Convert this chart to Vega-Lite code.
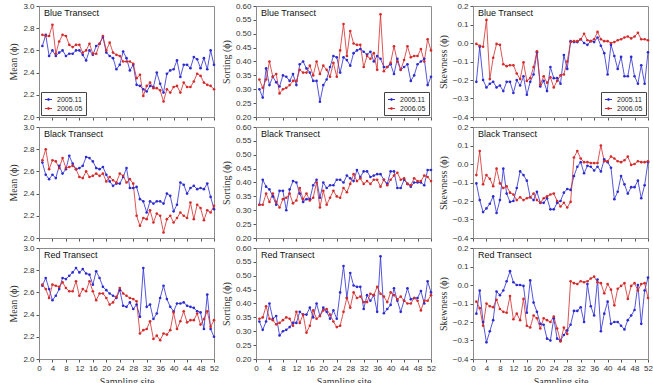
{
  "$schema": "https://vega.github.io/schema/vega-lite/v6.json",
  "padding": {"left": 8, "top": 1, "right": 0, "bottom": 0},
  "background": "white",
  "config": {
    "font": "Liberation Sans",
    "view": {"stroke": "#8c8c8c", "strokeWidth": 1},
    "axis": {
      "grid": false,
      "domainColor": "#8c8c8c",
      "tickColor": "#555555",
      "tickSize": 3,
      "labelFont": "Liberation Sans",
      "labelFontSize": 8,
      "labelColor": "#333333",
      "labelPadding": 2,
      "titleFont": "Liberation Serif",
      "titleFontSize": 10,
      "titleFontWeight": "normal",
      "titleColor": "#333333",
      "titlePadding": 4
    },
    "axisX": {"labelFlush": false, "labelOverlap": false},
    "legend": {
      "strokeColor": "#444444",
      "fillColor": "white",
      "padding": 3,
      "labelFont": "Liberation Sans",
      "labelFontSize": 7,
      "labelColor": "#222222",
      "symbolType": "M-1,0H1M-0.2,-0.2H0.2V0.2H-0.2Z",
      "symbolSize": 50,
      "symbolStrokeWidth": 1,
      "rowPadding": 1,
      "offset": 2
    },
    "title": {
      "anchor": "start",
      "frame": "group",
      "offset": -16,
      "dx": 5,
      "font": "Liberation Sans",
      "fontSize": 9,
      "fontWeight": "normal",
      "color": "#111111"
    }
  },
  "datasets": {
    "d": [
      {"t":"Blue","s":"2005.11","x":1,"m":2.64,"so":0.300,"sk":-0.21},
      {"t":"Blue","s":"2005.11","x":2,"m":2.74,"so":0.270,"sk":-0.02},
      {"t":"Blue","s":"2005.11","x":3,"m":2.55,"so":0.375,"sk":-0.20},
      {"t":"Blue","s":"2005.11","x":4,"m":2.60,"so":0.315,"sk":-0.24},
      {"t":"Blue","s":"2005.11","x":5,"m":2.55,"so":0.345,"sk":-0.22},
      {"t":"Blue","s":"2005.11","x":6,"m":2.58,"so":0.325,"sk":-0.21},
      {"t":"Blue","s":"2005.11","x":7,"m":2.60,"so":0.310,"sk":-0.24},
      {"t":"Blue","s":"2005.11","x":8,"m":2.55,"so":0.350,"sk":-0.23},
      {"t":"Blue","s":"2005.11","x":9,"m":2.57,"so":0.345,"sk":-0.26},
      {"t":"Blue","s":"2005.11","x":10,"m":2.57,"so":0.330,"sk":-0.21},
      {"t":"Blue","s":"2005.11","x":11,"m":2.60,"so":0.355,"sk":-0.21},
      {"t":"Blue","s":"2005.11","x":12,"m":2.60,"so":0.315,"sk":-0.27},
      {"t":"Blue","s":"2005.11","x":13,"m":2.56,"so":0.390,"sk":-0.20},
      {"t":"Blue","s":"2005.11","x":14,"m":2.51,"so":0.400,"sk":-0.23},
      {"t":"Blue","s":"2005.11","x":15,"m":2.60,"so":0.375,"sk":-0.18},
      {"t":"Blue","s":"2005.11","x":16,"m":2.56,"so":0.360,"sk":-0.28},
      {"t":"Blue","s":"2005.11","x":17,"m":2.64,"so":0.330,"sk":-0.21},
      {"t":"Blue","s":"2005.11","x":18,"m":2.66,"so":0.330,"sk":-0.17},
      {"t":"Blue","s":"2005.11","x":19,"m":2.72,"so":0.255,"sk":-0.05},
      {"t":"Blue","s":"2005.11","x":20,"m":2.58,"so":0.315,"sk":-0.235},
      {"t":"Blue","s":"2005.11","x":21,"m":2.55,"so":0.335,"sk":-0.205},
      {"t":"Blue","s":"2005.11","x":22,"m":2.53,"so":0.380,"sk":-0.26},
      {"t":"Blue","s":"2005.11","x":23,"m":2.43,"so":0.420,"sk":-0.13},
      {"t":"Blue","s":"2005.11","x":24,"m":2.47,"so":0.415,"sk":-0.19},
      {"t":"Blue","s":"2005.11","x":25,"m":2.59,"so":0.360,"sk":-0.19},
      {"t":"Blue","s":"2005.11","x":26,"m":2.53,"so":0.415,"sk":-0.22},
      {"t":"Blue","s":"2005.11","x":27,"m":2.42,"so":0.405,"sk":-0.065},
      {"t":"Blue","s":"2005.11","x":28,"m":2.47,"so":0.385,"sk":-0.14},
      {"t":"Blue","s":"2005.11","x":29,"m":2.29,"so":0.430,"sk":0.01},
      {"t":"Blue","s":"2005.11","x":30,"m":2.28,"so":0.440,"sk":0.005},
      {"t":"Blue","s":"2005.11","x":31,"m":2.25,"so":0.445,"sk":0.005},
      {"t":"Blue","s":"2005.11","x":32,"m":2.23,"so":0.435,"sk":0.02},
      {"t":"Blue","s":"2005.11","x":33,"m":2.28,"so":0.425,"sk":0.00},
      {"t":"Blue","s":"2005.11","x":34,"m":2.27,"so":0.435,"sk":-0.01},
      {"t":"Blue","s":"2005.11","x":35,"m":2.40,"so":0.400,"sk":0.01},
      {"t":"Blue","s":"2005.11","x":36,"m":2.30,"so":0.420,"sk":0.005},
      {"t":"Blue","s":"2005.11","x":37,"m":2.22,"so":0.410,"sk":0.03},
      {"t":"Blue","s":"2005.11","x":38,"m":2.39,"so":0.380,"sk":-0.015},
      {"t":"Blue","s":"2005.11","x":39,"m":2.42,"so":0.380,"sk":-0.055},
      {"t":"Blue","s":"2005.11","x":40,"m":2.43,"so":0.390,"sk":-0.17},
      {"t":"Blue","s":"2005.11","x":41,"m":2.51,"so":0.355,"sk":-0.01},
      {"t":"Blue","s":"2005.11","x":42,"m":2.36,"so":0.410,"sk":-0.07},
      {"t":"Blue","s":"2005.11","x":43,"m":2.47,"so":0.370,"sk":-0.14},
      {"t":"Blue","s":"2005.11","x":44,"m":2.47,"so":0.380,"sk":-0.075},
      {"t":"Blue","s":"2005.11","x":45,"m":2.44,"so":0.390,"sk":-0.18},
      {"t":"Blue","s":"2005.11","x":46,"m":2.54,"so":0.330,"sk":-0.18},
      {"t":"Blue","s":"2005.11","x":47,"m":2.52,"so":0.350,"sk":-0.075},
      {"t":"Blue","s":"2005.11","x":48,"m":2.44,"so":0.390,"sk":-0.18},
      {"t":"Blue","s":"2005.11","x":49,"m":2.53,"so":0.400,"sk":-0.22},
      {"t":"Blue","s":"2005.11","x":50,"m":2.43,"so":0.410,"sk":-0.12},
      {"t":"Blue","s":"2005.11","x":51,"m":2.60,"so":0.315,"sk":-0.22},
      {"t":"Blue","s":"2005.11","x":52,"m":2.47,"so":0.345,"sk":-0.05},

      {"t":"Blue","s":"2006.05","x":1,"m":2.74,"so":0.335,"sk":-0.005},
      {"t":"Blue","s":"2006.05","x":2,"m":2.73,"so":0.305,"sk":-0.015},
      {"t":"Blue","s":"2006.05","x":3,"m":2.73,"so":0.335,"sk":-0.02},
      {"t":"Blue","s":"2006.05","x":4,"m":2.83,"so":0.400,"sk":0.125},
      {"t":"Blue","s":"2006.05","x":5,"m":2.57,"so":0.345,"sk":-0.195},
      {"t":"Blue","s":"2006.05","x":6,"m":2.68,"so":0.355,"sk":-0.08},
      {"t":"Blue","s":"2006.05","x":7,"m":2.74,"so":0.285,"sk":-0.005},
      {"t":"Blue","s":"2006.05","x":8,"m":2.73,"so":0.300,"sk":-0.01},
      {"t":"Blue","s":"2006.05","x":9,"m":2.65,"so":0.305,"sk":-0.115},
      {"t":"Blue","s":"2006.05","x":10,"m":2.63,"so":0.315,"sk":-0.125},
      {"t":"Blue","s":"2006.05","x":11,"m":2.65,"so":0.330,"sk":-0.12},
      {"t":"Blue","s":"2006.05","x":12,"m":2.65,"so":0.330,"sk":-0.12},
      {"t":"Blue","s":"2006.05","x":13,"m":2.58,"so":0.370,"sk":-0.165},
      {"t":"Blue","s":"2006.05","x":14,"m":2.60,"so":0.360,"sk":-0.195},
      {"t":"Blue","s":"2006.05","x":15,"m":2.66,"so":0.360,"sk":-0.105},
      {"t":"Blue","s":"2006.05","x":16,"m":2.57,"so":0.385,"sk":-0.205},
      {"t":"Blue","s":"2006.05","x":17,"m":2.57,"so":0.350,"sk":-0.19},
      {"t":"Blue","s":"2006.05","x":18,"m":2.66,"so":0.400,"sk":-0.13},
      {"t":"Blue","s":"2006.05","x":19,"m":2.73,"so":0.355,"sk":-0.045},
      {"t":"Blue","s":"2006.05","x":20,"m":2.60,"so":0.385,"sk":-0.225},
      {"t":"Blue","s":"2006.05","x":21,"m":2.67,"so":0.370,"sk":-0.18},
      {"t":"Blue","s":"2006.05","x":22,"m":2.58,"so":0.345,"sk":-0.215},
      {"t":"Blue","s":"2006.05","x":23,"m":2.56,"so":0.395,"sk":-0.185},
      {"t":"Blue","s":"2006.05","x":24,"m":2.55,"so":0.345,"sk":-0.24},
      {"t":"Blue","s":"2006.05","x":25,"m":2.50,"so":0.440,"sk":-0.205},
      {"t":"Blue","s":"2006.05","x":26,"m":2.50,"so":0.535,"sk":-0.175},
      {"t":"Blue","s":"2006.05","x":27,"m":2.50,"so":0.420,"sk":-0.17},
      {"t":"Blue","s":"2006.05","x":28,"m":2.48,"so":0.510,"sk":-0.10},
      {"t":"Blue","s":"2006.05","x":29,"m":2.35,"so":0.465,"sk":0.005},
      {"t":"Blue","s":"2006.05","x":30,"m":2.38,"so":0.460,"sk":0.01},
      {"t":"Blue","s":"2006.05","x":31,"m":2.19,"so":0.460,"sk":0.01},
      {"t":"Blue","s":"2006.05","x":32,"m":2.28,"so":0.380,"sk":0.02},
      {"t":"Blue","s":"2006.05","x":33,"m":2.31,"so":0.420,"sk":0.05},
      {"t":"Blue","s":"2006.05","x":34,"m":2.26,"so":0.410,"sk":0.015},
      {"t":"Blue","s":"2006.05","x":35,"m":2.26,"so":0.430,"sk":0.01},
      {"t":"Blue","s":"2006.05","x":36,"m":2.24,"so":0.370,"sk":0.02},
      {"t":"Blue","s":"2006.05","x":37,"m":2.14,"so":0.570,"sk":0.06},
      {"t":"Blue","s":"2006.05","x":38,"m":2.25,"so":0.365,"sk":0.02},
      {"t":"Blue","s":"2006.05","x":39,"m":2.22,"so":0.380,"sk":0.01},
      {"t":"Blue","s":"2006.05","x":40,"m":2.27,"so":0.395,"sk":0.01},
      {"t":"Blue","s":"2006.05","x":41,"m":2.28,"so":0.455,"sk":0.00},
      {"t":"Blue","s":"2006.05","x":42,"m":2.22,"so":0.400,"sk":0.005},
      {"t":"Blue","s":"2006.05","x":43,"m":2.31,"so":0.370,"sk":0.015},
      {"t":"Blue","s":"2006.05","x":44,"m":2.27,"so":0.405,"sk":0.02},
      {"t":"Blue","s":"2006.05","x":45,"m":2.27,"so":0.455,"sk":0.03},
      {"t":"Blue","s":"2006.05","x":46,"m":2.32,"so":0.415,"sk":0.035},
      {"t":"Blue","s":"2006.05","x":47,"m":2.39,"so":0.420,"sk":0.025},
      {"t":"Blue","s":"2006.05","x":48,"m":2.37,"so":0.420,"sk":0.035},
      {"t":"Blue","s":"2006.05","x":49,"m":2.31,"so":0.445,"sk":0.055},
      {"t":"Blue","s":"2006.05","x":50,"m":2.29,"so":0.400,"sk":0.02},
      {"t":"Blue","s":"2006.05","x":51,"m":2.28,"so":0.480,"sk":0.02},
      {"t":"Blue","s":"2006.05","x":52,"m":2.25,"so":0.440,"sk":0.015},

      {"t":"Black","s":"2005.11","x":1,"m":2.68,"so":0.320,"sk":-0.105},
      {"t":"Black","s":"2005.11","x":2,"m":2.57,"so":0.410,"sk":-0.195},
      {"t":"Black","s":"2005.11","x":3,"m":2.53,"so":0.385,"sk":-0.26},
      {"t":"Black","s":"2005.11","x":4,"m":2.57,"so":0.375,"sk":-0.24},
      {"t":"Black","s":"2005.11","x":5,"m":2.54,"so":0.350,"sk":-0.215},
      {"t":"Black","s":"2005.11","x":6,"m":2.65,"so":0.320,"sk":-0.175},
      {"t":"Black","s":"2005.11","x":7,"m":2.58,"so":0.370,"sk":-0.265},
      {"t":"Black","s":"2005.11","x":8,"m":2.62,"so":0.370,"sk":-0.195},
      {"t":"Black","s":"2005.11","x":9,"m":2.74,"so":0.300,"sk":-0.025},
      {"t":"Black","s":"2005.11","x":10,"m":2.67,"so":0.375,"sk":-0.16},
      {"t":"Black","s":"2005.11","x":11,"m":2.62,"so":0.405,"sk":-0.205},
      {"t":"Black","s":"2005.11","x":12,"m":2.63,"so":0.400,"sk":-0.20},
      {"t":"Black","s":"2005.11","x":13,"m":2.65,"so":0.360,"sk":-0.13},
      {"t":"Black","s":"2005.11","x":14,"m":2.73,"so":0.330,"sk":-0.04},
      {"t":"Black","s":"2005.11","x":15,"m":2.72,"so":0.340,"sk":-0.06},
      {"t":"Black","s":"2005.11","x":16,"m":2.69,"so":0.340,"sk":-0.09},
      {"t":"Black","s":"2005.11","x":17,"m":2.63,"so":0.390,"sk":-0.18},
      {"t":"Black","s":"2005.11","x":18,"m":2.62,"so":0.410,"sk":-0.195},
      {"t":"Black","s":"2005.11","x":19,"m":2.64,"so":0.345,"sk":-0.15},
      {"t":"Black","s":"2005.11","x":20,"m":2.57,"so":0.400,"sk":-0.21},
      {"t":"Black","s":"2005.11","x":21,"m":2.51,"so":0.380,"sk":-0.21},
      {"t":"Black","s":"2005.11","x":22,"m":2.47,"so":0.390,"sk":-0.185},
      {"t":"Black","s":"2005.11","x":23,"m":2.49,"so":0.390,"sk":-0.245},
      {"t":"Black","s":"2005.11","x":24,"m":2.49,"so":0.410,"sk":-0.245},
      {"t":"Black","s":"2005.11","x":25,"m":2.55,"so":0.410,"sk":-0.21},
      {"t":"Black","s":"2005.11","x":26,"m":2.63,"so":0.400,"sk":-0.20},
      {"t":"Black","s":"2005.11","x":27,"m":2.45,"so":0.425,"sk":-0.155},
      {"t":"Black","s":"2005.11","x":28,"m":2.45,"so":0.415,"sk":-0.135},
      {"t":"Black","s":"2005.11","x":29,"m":2.46,"so":0.405,"sk":-0.14},
      {"t":"Black","s":"2005.11","x":30,"m":2.35,"so":0.445,"sk":-0.065},
      {"t":"Black","s":"2005.11","x":31,"m":2.33,"so":0.420,"sk":-0.015},
      {"t":"Black","s":"2005.11","x":32,"m":2.23,"so":0.440,"sk":0.01},
      {"t":"Black","s":"2005.11","x":33,"m":2.33,"so":0.440,"sk":-0.05},
      {"t":"Black","s":"2005.11","x":34,"m":2.31,"so":0.420,"sk":-0.01},
      {"t":"Black","s":"2005.11","x":35,"m":2.33,"so":0.425,"sk":-0.015},
      {"t":"Black","s":"2005.11","x":36,"m":2.33,"so":0.430,"sk":-0.035},
      {"t":"Black","s":"2005.11","x":37,"m":2.31,"so":0.430,"sk":-0.015},
      {"t":"Black","s":"2005.11","x":38,"m":2.40,"so":0.410,"sk":-0.04},
      {"t":"Black","s":"2005.11","x":39,"m":2.38,"so":0.395,"sk":0.025},
      {"t":"Black","s":"2005.11","x":40,"m":2.24,"so":0.440,"sk":0.01},
      {"t":"Black","s":"2005.11","x":41,"m":2.30,"so":0.440,"sk":-0.02},
      {"t":"Black","s":"2005.11","x":42,"m":2.50,"so":0.380,"sk":-0.19},
      {"t":"Black","s":"2005.11","x":43,"m":2.48,"so":0.380,"sk":-0.15},
      {"t":"Black","s":"2005.11","x":44,"m":2.40,"so":0.410,"sk":-0.065},
      {"t":"Black","s":"2005.11","x":45,"m":2.45,"so":0.395,"sk":-0.11},
      {"t":"Black","s":"2005.11","x":46,"m":2.47,"so":0.385,"sk":-0.16},
      {"t":"Black","s":"2005.11","x":47,"m":2.44,"so":0.400,"sk":-0.125},
      {"t":"Black","s":"2005.11","x":48,"m":2.45,"so":0.400,"sk":-0.125},
      {"t":"Black","s":"2005.11","x":49,"m":2.44,"so":0.400,"sk":-0.09},
      {"t":"Black","s":"2005.11","x":50,"m":2.49,"so":0.390,"sk":-0.185},
      {"t":"Black","s":"2005.11","x":51,"m":2.37,"so":0.445,"sk":-0.115},
      {"t":"Black","s":"2005.11","x":52,"m":2.26,"so":0.445,"sk":0.01},

      {"t":"Black","s":"2006.05","x":1,"m":2.70,"so":0.320,"sk":-0.06},
      {"t":"Black","s":"2006.05","x":2,"m":2.80,"so":0.320,"sk":0.07},
      {"t":"Black","s":"2006.05","x":3,"m":2.62,"so":0.360,"sk":-0.11},
      {"t":"Black","s":"2006.05","x":4,"m":2.70,"so":0.330,"sk":-0.06},
      {"t":"Black","s":"2006.05","x":5,"m":2.69,"so":0.360,"sk":-0.08},
      {"t":"Black","s":"2006.05","x":6,"m":2.63,"so":0.330,"sk":-0.12},
      {"t":"Black","s":"2006.05","x":7,"m":2.72,"so":0.310,"sk":-0.025},
      {"t":"Black","s":"2006.05","x":8,"m":2.63,"so":0.340,"sk":-0.105},
      {"t":"Black","s":"2006.05","x":9,"m":2.64,"so":0.345,"sk":-0.13},
      {"t":"Black","s":"2006.05","x":10,"m":2.65,"so":0.360,"sk":-0.12},
      {"t":"Black","s":"2006.05","x":11,"m":2.62,"so":0.325,"sk":-0.155},
      {"t":"Black","s":"2006.05","x":12,"m":2.55,"so":0.335,"sk":-0.165},
      {"t":"Black","s":"2006.05","x":13,"m":2.54,"so":0.380,"sk":-0.195},
      {"t":"Black","s":"2006.05","x":14,"m":2.60,"so":0.340,"sk":-0.18},
      {"t":"Black","s":"2006.05","x":15,"m":2.55,"so":0.360,"sk":-0.195},
      {"t":"Black","s":"2006.05","x":16,"m":2.56,"so":0.335,"sk":-0.185},
      {"t":"Black","s":"2006.05","x":17,"m":2.58,"so":0.345,"sk":-0.18},
      {"t":"Black","s":"2006.05","x":18,"m":2.56,"so":0.400,"sk":-0.16},
      {"t":"Black","s":"2006.05","x":19,"m":2.58,"so":0.310,"sk":-0.195},
      {"t":"Black","s":"2006.05","x":20,"m":2.51,"so":0.370,"sk":-0.21},
      {"t":"Black","s":"2006.05","x":21,"m":2.55,"so":0.320,"sk":-0.185},
      {"t":"Black","s":"2006.05","x":22,"m":2.52,"so":0.345,"sk":-0.175},
      {"t":"Black","s":"2006.05","x":23,"m":2.50,"so":0.370,"sk":-0.165},
      {"t":"Black","s":"2006.05","x":24,"m":2.58,"so":0.350,"sk":-0.16},
      {"t":"Black","s":"2006.05","x":25,"m":2.56,"so":0.345,"sk":-0.20},
      {"t":"Black","s":"2006.05","x":26,"m":2.50,"so":0.380,"sk":-0.23},
      {"t":"Black","s":"2006.05","x":27,"m":2.53,"so":0.365,"sk":-0.21},
      {"t":"Black","s":"2006.05","x":28,"m":2.49,"so":0.395,"sk":-0.235},
      {"t":"Black","s":"2006.05","x":29,"m":2.20,"so":0.430,"sk":-0.205},
      {"t":"Black","s":"2006.05","x":30,"m":2.11,"so":0.405,"sk":0.035},
      {"t":"Black","s":"2006.05","x":31,"m":2.18,"so":0.415,"sk":0.07},
      {"t":"Black","s":"2006.05","x":32,"m":2.17,"so":0.395,"sk":0.03},
      {"t":"Black","s":"2006.05","x":33,"m":2.25,"so":0.405,"sk":0.01},
      {"t":"Black","s":"2006.05","x":34,"m":2.14,"so":0.395,"sk":0.01},
      {"t":"Black","s":"2006.05","x":35,"m":2.22,"so":0.410,"sk":0.005},
      {"t":"Black","s":"2006.05","x":36,"m":2.20,"so":0.410,"sk":0.005},
      {"t":"Black","s":"2006.05","x":37,"m":2.05,"so":0.385,"sk":0.005},
      {"t":"Black","s":"2006.05","x":38,"m":2.17,"so":0.410,"sk":0.10},
      {"t":"Black","s":"2006.05","x":39,"m":2.20,"so":0.390,"sk":0.015},
      {"t":"Black","s":"2006.05","x":40,"m":2.14,"so":0.410,"sk":0.015},
      {"t":"Black","s":"2006.05","x":41,"m":2.18,"so":0.425,"sk":0.04},
      {"t":"Black","s":"2006.05","x":42,"m":2.23,"so":0.435,"sk":0.03},
      {"t":"Black","s":"2006.05","x":43,"m":2.20,"so":0.410,"sk":0.015},
      {"t":"Black","s":"2006.05","x":44,"m":2.18,"so":0.415,"sk":0.01},
      {"t":"Black","s":"2006.05","x":45,"m":2.32,"so":0.395,"sk":0.02},
      {"t":"Black","s":"2006.05","x":46,"m":2.17,"so":0.390,"sk":0.04},
      {"t":"Black","s":"2006.05","x":47,"m":2.30,"so":0.415,"sk":-0.005},
      {"t":"Black","s":"2006.05","x":48,"m":2.27,"so":0.405,"sk":0.00},
      {"t":"Black","s":"2006.05","x":49,"m":2.16,"so":0.405,"sk":0.015},
      {"t":"Black","s":"2006.05","x":50,"m":2.25,"so":0.425,"sk":0.01},
      {"t":"Black","s":"2006.05","x":51,"m":2.23,"so":0.420,"sk":0.01},
      {"t":"Black","s":"2006.05","x":52,"m":2.29,"so":0.405,"sk":0.015},

      {"t":"Red","s":"2005.11","x":1,"m":2.66,"so":0.335,"sk":-0.155},
      {"t":"Red","s":"2005.11","x":2,"m":2.73,"so":0.305,"sk":-0.03},
      {"t":"Red","s":"2005.11","x":3,"m":2.63,"so":0.335,"sk":-0.20},
      {"t":"Red","s":"2005.11","x":4,"m":2.53,"so":0.400,"sk":-0.31},
      {"t":"Red","s":"2005.11","x":5,"m":2.57,"so":0.345,"sk":-0.25},
      {"t":"Red","s":"2005.11","x":6,"m":2.63,"so":0.355,"sk":-0.19},
      {"t":"Red","s":"2005.11","x":7,"m":2.73,"so":0.285,"sk":-0.035},
      {"t":"Red","s":"2005.11","x":8,"m":2.72,"so":0.300,"sk":-0.055},
      {"t":"Red","s":"2005.11","x":9,"m":2.75,"so":0.305,"sk":-0.03},
      {"t":"Red","s":"2005.11","x":10,"m":2.78,"so":0.315,"sk":0.02},
      {"t":"Red","s":"2005.11","x":11,"m":2.82,"so":0.330,"sk":0.075},
      {"t":"Red","s":"2005.11","x":12,"m":2.78,"so":0.330,"sk":0.015},
      {"t":"Red","s":"2005.11","x":13,"m":2.81,"so":0.370,"sk":0.00},
      {"t":"Red","s":"2005.11","x":14,"m":2.77,"so":0.360,"sk":0.00},
      {"t":"Red","s":"2005.11","x":15,"m":2.76,"so":0.360,"sk":-0.005},
      {"t":"Red","s":"2005.11","x":16,"m":2.67,"so":0.385,"sk":-0.15},
      {"t":"Red","s":"2005.11","x":17,"m":2.79,"so":0.350,"sk":0.025},
      {"t":"Red","s":"2005.11","x":18,"m":2.73,"so":0.400,"sk":-0.095},
      {"t":"Red","s":"2005.11","x":19,"m":2.65,"so":0.355,"sk":-0.145},
      {"t":"Red","s":"2005.11","x":20,"m":2.62,"so":0.385,"sk":-0.21},
      {"t":"Red","s":"2005.11","x":21,"m":2.59,"so":0.370,"sk":-0.215},
      {"t":"Red","s":"2005.11","x":22,"m":2.57,"so":0.345,"sk":-0.29},
      {"t":"Red","s":"2005.11","x":23,"m":2.55,"so":0.375,"sk":-0.30},
      {"t":"Red","s":"2005.11","x":24,"m":2.62,"so":0.345,"sk":-0.18},
      {"t":"Red","s":"2005.11","x":25,"m":2.48,"so":0.440,"sk":-0.29},
      {"t":"Red","s":"2005.11","x":26,"m":2.47,"so":0.535,"sk":-0.30},
      {"t":"Red","s":"2005.11","x":27,"m":2.51,"so":0.420,"sk":-0.27},
      {"t":"Red","s":"2005.11","x":28,"m":2.45,"so":0.510,"sk":-0.245},
      {"t":"Red","s":"2005.11","x":29,"m":2.49,"so":0.465,"sk":-0.215},
      {"t":"Red","s":"2005.11","x":30,"m":2.38,"so":0.460,"sk":-0.14},
      {"t":"Red","s":"2005.11","x":31,"m":2.82,"so":0.460,"sk":-0.14},
      {"t":"Red","s":"2005.11","x":32,"m":2.47,"so":0.380,"sk":-0.12},
      {"t":"Red","s":"2005.11","x":33,"m":2.49,"so":0.430,"sk":-0.20},
      {"t":"Red","s":"2005.11","x":34,"m":2.36,"so":0.410,"sk":0.005},
      {"t":"Red","s":"2005.11","x":35,"m":2.41,"so":0.430,"sk":-0.115},
      {"t":"Red","s":"2005.11","x":36,"m":2.55,"so":0.370,"sk":-0.165},
      {"t":"Red","s":"2005.11","x":37,"m":2.66,"so":0.570,"sk":0.03},
      {"t":"Red","s":"2005.11","x":38,"m":2.54,"so":0.365,"sk":-0.25},
      {"t":"Red","s":"2005.11","x":39,"m":2.47,"so":0.380,"sk":-0.155},
      {"t":"Red","s":"2005.11","x":40,"m":2.43,"so":0.395,"sk":-0.09},
      {"t":"Red","s":"2005.11","x":41,"m":2.50,"so":0.455,"sk":-0.21},
      {"t":"Red","s":"2005.11","x":42,"m":2.50,"so":0.410,"sk":-0.20},
      {"t":"Red","s":"2005.11","x":43,"m":2.51,"so":0.370,"sk":-0.20},
      {"t":"Red","s":"2005.11","x":44,"m":2.48,"so":0.410,"sk":-0.22},
      {"t":"Red","s":"2005.11","x":45,"m":2.47,"so":0.455,"sk":-0.24},
      {"t":"Red","s":"2005.11","x":46,"m":2.46,"so":0.415,"sk":-0.19},
      {"t":"Red","s":"2005.11","x":47,"m":2.43,"so":0.420,"sk":-0.165},
      {"t":"Red","s":"2005.11","x":48,"m":2.42,"so":0.420,"sk":-0.135},
      {"t":"Red","s":"2005.11","x":49,"m":2.27,"so":0.445,"sk":0.00},
      {"t":"Red","s":"2005.11","x":50,"m":2.58,"so":0.400,"sk":-0.21},
      {"t":"Red","s":"2005.11","x":51,"m":2.27,"so":0.480,"sk":-0.03},
      {"t":"Red","s":"2005.11","x":52,"m":2.20,"so":0.440,"sk":0.04},

      {"t":"Red","s":"2006.05","x":1,"m":2.67,"so":0.345,"sk":-0.09},
      {"t":"Red","s":"2006.05","x":2,"m":2.63,"so":0.350,"sk":-0.125},
      {"t":"Red","s":"2006.05","x":3,"m":2.55,"so":0.390,"sk":-0.22},
      {"t":"Red","s":"2006.05","x":4,"m":2.67,"so":0.345,"sk":-0.10},
      {"t":"Red","s":"2006.05","x":5,"m":2.66,"so":0.340,"sk":-0.115},
      {"t":"Red","s":"2006.05","x":6,"m":2.65,"so":0.325,"sk":-0.12},
      {"t":"Red","s":"2006.05","x":7,"m":2.69,"so":0.330,"sk":-0.08},
      {"t":"Red","s":"2006.05","x":8,"m":2.64,"so":0.340,"sk":-0.13},
      {"t":"Red","s":"2006.05","x":9,"m":2.61,"so":0.350,"sk":-0.145},
      {"t":"Red","s":"2006.05","x":10,"m":2.61,"so":0.345,"sk":-0.15},
      {"t":"Red","s":"2006.05","x":11,"m":2.70,"so":0.320,"sk":-0.06},
      {"t":"Red","s":"2006.05","x":12,"m":2.57,"so":0.370,"sk":-0.185},
      {"t":"Red","s":"2006.05","x":13,"m":2.63,"so":0.330,"sk":-0.155},
      {"t":"Red","s":"2006.05","x":14,"m":2.61,"so":0.360,"sk":-0.19},
      {"t":"Red","s":"2006.05","x":15,"m":2.70,"so":0.295,"sk":-0.075},
      {"t":"Red","s":"2006.05","x":16,"m":2.61,"so":0.320,"sk":-0.22},
      {"t":"Red","s":"2006.05","x":17,"m":2.53,"so":0.375,"sk":-0.23},
      {"t":"Red","s":"2006.05","x":18,"m":2.59,"so":0.345,"sk":-0.165},
      {"t":"Red","s":"2006.05","x":19,"m":2.59,"so":0.355,"sk":-0.18},
      {"t":"Red","s":"2006.05","x":20,"m":2.55,"so":0.375,"sk":-0.235},
      {"t":"Red","s":"2006.05","x":21,"m":2.49,"so":0.380,"sk":-0.18},
      {"t":"Red","s":"2006.05","x":22,"m":2.51,"so":0.360,"sk":-0.19},
      {"t":"Red","s":"2006.05","x":23,"m":2.56,"so":0.335,"sk":-0.20},
      {"t":"Red","s":"2006.05","x":24,"m":2.64,"so":0.315,"sk":-0.17},
      {"t":"Red","s":"2006.05","x":25,"m":2.59,"so":0.320,"sk":-0.235},
      {"t":"Red","s":"2006.05","x":26,"m":2.57,"so":0.370,"sk":-0.305},
      {"t":"Red","s":"2006.05","x":27,"m":2.55,"so":0.420,"sk":-0.23},
      {"t":"Red","s":"2006.05","x":28,"m":2.54,"so":0.385,"sk":-0.265},
      {"t":"Red","s":"2006.05","x":29,"m":2.52,"so":0.440,"sk":0.02},
      {"t":"Red","s":"2006.05","x":30,"m":2.23,"so":0.420,"sk":0.01},
      {"t":"Red","s":"2006.05","x":31,"m":2.26,"so":0.425,"sk":0.005},
      {"t":"Red","s":"2006.05","x":32,"m":2.27,"so":0.405,"sk":0.02},
      {"t":"Red","s":"2006.05","x":33,"m":2.34,"so":0.405,"sk":0.015},
      {"t":"Red","s":"2006.05","x":34,"m":2.18,"so":0.435,"sk":0.02},
      {"t":"Red","s":"2006.05","x":35,"m":2.21,"so":0.430,"sk":0.035},
      {"t":"Red","s":"2006.05","x":36,"m":2.17,"so":0.460,"sk":0.045},
      {"t":"Red","s":"2006.05","x":37,"m":2.23,"so":0.435,"sk":0.015},
      {"t":"Red","s":"2006.05","x":38,"m":2.22,"so":0.425,"sk":0.01},
      {"t":"Red","s":"2006.05","x":39,"m":2.26,"so":0.405,"sk":-0.045},
      {"t":"Red","s":"2006.05","x":40,"m":2.42,"so":0.440,"sk":0.005},
      {"t":"Red","s":"2006.05","x":41,"m":2.27,"so":0.430,"sk":-0.025},
      {"t":"Red","s":"2006.05","x":42,"m":2.34,"so":0.415,"sk":-0.11},
      {"t":"Red","s":"2006.05","x":43,"m":2.43,"so":0.425,"sk":-0.02},
      {"t":"Red","s":"2006.05","x":44,"m":2.33,"so":0.410,"sk":-0.005},
      {"t":"Red","s":"2006.05","x":45,"m":2.35,"so":0.400,"sk":0.01},
      {"t":"Red","s":"2006.05","x":46,"m":2.35,"so":0.400,"sk":-0.075},
      {"t":"Red","s":"2006.05","x":47,"m":2.41,"so":0.420,"sk":-0.005},
      {"t":"Red","s":"2006.05","x":48,"m":2.31,"so":0.410,"sk":0.01},
      {"t":"Red","s":"2006.05","x":49,"m":2.36,"so":0.375,"sk":-0.03},
      {"t":"Red","s":"2006.05","x":50,"m":2.43,"so":0.410,"sk":0.005},
      {"t":"Red","s":"2006.05","x":51,"m":2.29,"so":0.410,"sk":0.01},
      {"t":"Red","s":"2006.05","x":52,"m":2.35,"so":0.430,"sk":-0.07}
    ]
  },
  "columns": 3,
  "bounds": "flush",
  "spacing": {"row": 10, "column": 42},
  "resolve": {"scale": {"color": "independent"}, "legend": {"color": "independent"}},
  "concat": [
    {
      "width": 175, "height": 111,
      "data": {"name": "d"},
      "transform": [{"filter": "datum.t === 'Blue'"}],
      "title": {"text": "Blue Transect"},
      "mark": {"type": "line", "strokeWidth": 0.8, "point": {"filled": true, "size": 7}},
      "encoding": {
        "x": {"field": "x", "type": "quantitative", "scale": {"domain": [0, 52]}, "axis": {"values": [0,4,8,12,16,20,24,28,32,36,40,44,48,52], "labels": false, "title": null}},
        "y": {"field": "m", "type": "quantitative", "scale": {"domain": [2, 3]}, "axis": {"values": [2,2.2,2.4,2.6,2.8,3], "format": ".1f", "title": "Mean (ϕ)"}},
        "color": {"field": "s", "type": "nominal", "scale": {"domain": ["2005.11", "2006.05"], "range": ["#2b2bd0", "#d42a2a"]}, "legend": {"title": null, "orient": "bottom-left"}}
      }
    },
    {
      "width": 175, "height": 111,
      "data": {"name": "d"},
      "transform": [{"filter": "datum.t === 'Blue'"}],
      "title": {"text": "Blue Transect"},
      "mark": {"type": "line", "strokeWidth": 0.8, "point": {"filled": true, "size": 7}},
      "encoding": {
        "x": {"field": "x", "type": "quantitative", "scale": {"domain": [0, 52]}, "axis": {"values": [0,4,8,12,16,20,24,28,32,36,40,44,48,52], "labels": false, "title": null}},
        "y": {"field": "so", "type": "quantitative", "scale": {"domain": [0.2, 0.6]}, "axis": {"values": [0.2,0.25,0.3,0.35,0.4,0.45,0.5,0.55,0.6], "format": ".2f", "title": "Sorting (ϕ)"}},
        "color": {"field": "s", "type": "nominal", "scale": {"domain": ["2005.11", "2006.05"], "range": ["#2b2bd0", "#d42a2a"]}, "legend": {"title": null, "orient": "bottom-right"}}
      }
    },
    {
      "width": 175, "height": 111,
      "data": {"name": "d"},
      "transform": [{"filter": "datum.t === 'Blue'"}],
      "title": {"text": "Blue Transect"},
      "mark": {"type": "line", "strokeWidth": 0.8, "point": {"filled": true, "size": 7}},
      "encoding": {
        "x": {"field": "x", "type": "quantitative", "scale": {"domain": [0, 52]}, "axis": {"values": [0,4,8,12,16,20,24,28,32,36,40,44,48,52], "labels": false, "title": null}},
        "y": {"field": "sk", "type": "quantitative", "scale": {"domain": [-0.4, 0.2]}, "axis": {"values": [-0.4,-0.3,-0.2,-0.1,0,0.1,0.2], "format": ".1f", "title": "Skewness (ϕ)"}},
        "color": {"field": "s", "type": "nominal", "scale": {"domain": ["2005.11", "2006.05"], "range": ["#2b2bd0", "#d42a2a"]}, "legend": {"title": null, "orient": "bottom-right"}}
      }
    },
    {
      "width": 175, "height": 111,
      "data": {"name": "d"},
      "transform": [{"filter": "datum.t === 'Black'"}],
      "title": {"text": "Black Transect"},
      "mark": {"type": "line", "strokeWidth": 0.8, "point": {"filled": true, "size": 7}},
      "encoding": {
        "x": {"field": "x", "type": "quantitative", "scale": {"domain": [0, 52]}, "axis": {"values": [0,4,8,12,16,20,24,28,32,36,40,44,48,52], "labels": false, "title": null}},
        "y": {"field": "m", "type": "quantitative", "scale": {"domain": [2, 3]}, "axis": {"values": [2,2.2,2.4,2.6,2.8,3], "format": ".1f", "title": "Mean (ϕ)"}},
        "color": {"field": "s", "type": "nominal", "scale": {"domain": ["2005.11", "2006.05"], "range": ["#2b2bd0", "#d42a2a"]}, "legend": null}
      }
    },
    {
      "width": 175, "height": 111,
      "data": {"name": "d"},
      "transform": [{"filter": "datum.t === 'Black'"}],
      "title": {"text": "Black Transect"},
      "mark": {"type": "line", "strokeWidth": 0.8, "point": {"filled": true, "size": 7}},
      "encoding": {
        "x": {"field": "x", "type": "quantitative", "scale": {"domain": [0, 52]}, "axis": {"values": [0,4,8,12,16,20,24,28,32,36,40,44,48,52], "labels": false, "title": null}},
        "y": {"field": "so", "type": "quantitative", "scale": {"domain": [0.2, 0.6]}, "axis": {"values": [0.2,0.25,0.3,0.35,0.4,0.45,0.5,0.55,0.6], "format": ".2f", "title": "Sorting (ϕ)"}},
        "color": {"field": "s", "type": "nominal", "scale": {"domain": ["2005.11", "2006.05"], "range": ["#2b2bd0", "#d42a2a"]}, "legend": null}
      }
    },
    {
      "width": 175, "height": 111,
      "data": {"name": "d"},
      "transform": [{"filter": "datum.t === 'Black'"}],
      "title": {"text": "Black Transect"},
      "mark": {"type": "line", "strokeWidth": 0.8, "point": {"filled": true, "size": 7}},
      "encoding": {
        "x": {"field": "x", "type": "quantitative", "scale": {"domain": [0, 52]}, "axis": {"values": [0,4,8,12,16,20,24,28,32,36,40,44,48,52], "labels": false, "title": null}},
        "y": {"field": "sk", "type": "quantitative", "scale": {"domain": [-0.4, 0.2]}, "axis": {"values": [-0.4,-0.3,-0.2,-0.1,0,0.1,0.2], "format": ".1f", "title": "Skewness (ϕ)"}},
        "color": {"field": "s", "type": "nominal", "scale": {"domain": ["2005.11", "2006.05"], "range": ["#2b2bd0", "#d42a2a"]}, "legend": null}
      }
    },
    {
      "width": 175, "height": 111,
      "data": {"name": "d"},
      "transform": [{"filter": "datum.t === 'Red'"}],
      "title": {"text": "Red Transect"},
      "mark": {"type": "line", "strokeWidth": 0.8, "point": {"filled": true, "size": 7}},
      "encoding": {
        "x": {"field": "x", "type": "quantitative", "scale": {"domain": [0, 52]}, "axis": {"values": [0,4,8,12,16,20,24,28,32,36,40,44,48,52], "title": "Sampling site"}},
        "y": {"field": "m", "type": "quantitative", "scale": {"domain": [2, 3]}, "axis": {"values": [2,2.2,2.4,2.6,2.8,3], "format": ".1f", "title": "Mean (ϕ)"}},
        "color": {"field": "s", "type": "nominal", "scale": {"domain": ["2005.11", "2006.05"], "range": ["#2b2bd0", "#d42a2a"]}, "legend": null}
      }
    },
    {
      "width": 175, "height": 111,
      "data": {"name": "d"},
      "transform": [{"filter": "datum.t === 'Red'"}],
      "title": {"text": "Red Transect"},
      "mark": {"type": "line", "strokeWidth": 0.8, "point": {"filled": true, "size": 7}},
      "encoding": {
        "x": {"field": "x", "type": "quantitative", "scale": {"domain": [0, 52]}, "axis": {"values": [0,4,8,12,16,20,24,28,32,36,40,44,48,52], "title": "Sampling site"}},
        "y": {"field": "so", "type": "quantitative", "scale": {"domain": [0.2, 0.6]}, "axis": {"values": [0.2,0.25,0.3,0.35,0.4,0.45,0.5,0.55,0.6], "format": ".2f", "title": "Sorting (ϕ)"}},
        "color": {"field": "s", "type": "nominal", "scale": {"domain": ["2005.11", "2006.05"], "range": ["#2b2bd0", "#d42a2a"]}, "legend": null}
      }
    },
    {
      "width": 175, "height": 111,
      "data": {"name": "d"},
      "transform": [{"filter": "datum.t === 'Red'"}],
      "title": {"text": "Red Transect"},
      "mark": {"type": "line", "strokeWidth": 0.8, "point": {"filled": true, "size": 7}},
      "encoding": {
        "x": {"field": "x", "type": "quantitative", "scale": {"domain": [0, 52]}, "axis": {"values": [0,4,8,12,16,20,24,28,32,36,40,44,48,52], "title": "Sampling site"}},
        "y": {"field": "sk", "type": "quantitative", "scale": {"domain": [-0.4, 0.2]}, "axis": {"values": [-0.4,-0.3,-0.2,-0.1,0,0.1,0.2], "format": ".1f", "title": "Skewness (ϕ)"}},
        "color": {"field": "s", "type": "nominal", "scale": {"domain": ["2005.11", "2006.05"], "range": ["#2b2bd0", "#d42a2a"]}, "legend": null}
      }
    }
  ]
}
